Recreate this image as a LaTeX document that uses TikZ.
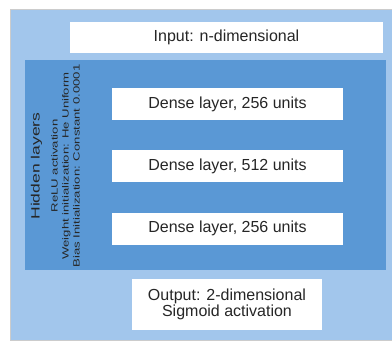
\documentclass[tikz,border=0pt]{standalone}
\usepackage{fontspec}
\setmainfont{Liberation Sans}
\usetikzlibrary{positioning}
\definecolor{paleblue}{RGB}{162,198,236}
\definecolor{midblue}{RGB}{90,152,213}
\tikzstyle{panel} = [rectangle, inner sep=0pt, anchor=north west]
\tikzstyle{block} = [rectangle, fill=white, text=black!85, align=center,
    inner sep=0pt, font=\fontsize{16}{16}\selectfont]
\tikzstyle{sidenote} = [rotate=90, text=black!85, inner sep=0pt]

\begin{document}
\begin{tikzpicture}[x=1pt, y=-1pt, node distance=30pt]
        \useasboundingbox (0,0) rectangle (392,344);
        % Place containers
        \node [panel, fill=paleblue, draw=black!20, minimum width=382pt, minimum height=331pt] (outer) at (10,9) {};
        \node [panel, fill=midblue, minimum width=361pt, minimum height=210pt] (hidden) at (25,60) {};
        % Place layers
        \node [block, minimum width=313pt, minimum height=31pt] (input) at (226.5,37.5) {Input: n-dimensional};
        \node [block, minimum width=231pt, minimum height=32pt] (dense1) at (227.5,104) {Dense layer, 256 units};
        \node [block, minimum width=231pt, minimum height=32pt, below=of dense1] (dense2) {Dense layer, 512 units};
        \node [block, minimum width=231pt, minimum height=32pt, below=of dense2] (dense3) {Dense layer, 256 units};
        \node [block, minimum width=190pt, minimum height=51pt] (output) at (227,304.5) {Output: 2-dimensional\\Sigmoid activation};
        % Side label
        \node [sidenote] (hiddenlabel) at (57,166) {\scalebox{1.46}[1]{\fontsize{9}{11}\selectfont
            \begin{tabular}{@{}c@{}}
            {\fontsize{12}{13}\selectfont Hidden layers}\\[7pt]
            ReLU activation\\
            Weight initialization: He Uniform\\
            Bias Initialization: Constant 0.0001
            \end{tabular}}};
    \end{tikzpicture}
\end{document}
